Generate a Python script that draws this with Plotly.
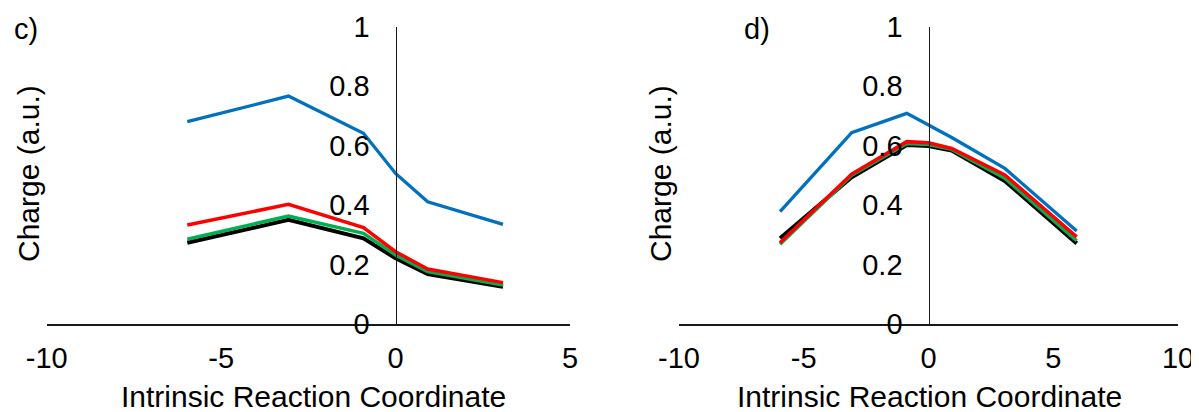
import plotly.graph_objects as go

# ---- data: panel c) ----
c_x = [-5.97, -3.07, -0.92, 0.0, 0.92, 3.08]
c_blue = [0.680, 0.766, 0.641, 0.506, 0.411, 0.335]
c_red = [0.333, 0.402, 0.324, 0.243, 0.185, 0.139]
c_green = [0.285, 0.363, 0.305, 0.232, 0.176, 0.131]
c_black = [0.273, 0.350, 0.288, 0.221, 0.168, 0.125]

# ---- data: panel d) ----
d_x = [-5.95, -3.08, -0.87, 0.0, 0.93, 3.06, 5.94]
d_blue = [0.378, 0.643, 0.708, 0.668, 0.627, 0.523, 0.313]
d_red = [0.273, 0.504, 0.613, 0.609, 0.590, 0.501, 0.293]
d_green = [0.268, 0.500, 0.607, 0.603, 0.587, 0.490, 0.280]
d_black = [0.288, 0.493, 0.602, 0.598, 0.583, 0.481, 0.271]

x_ticks_c = [-10, -5, 0, 5]
x_ticktext_c = ["-10", "-5", "0", "5"]
x_ticks_d = [-10, -5, 0, 5, 10]
x_ticktext_d = ["-10", "-5", "0", "5", "10"]
y_ticks = [0, 0.2, 0.4, 0.6, 0.8, 1]
y_ticktext = ["0", "0.2", "0.4", "0.6", "0.8", "1"]

panel_labels = ["c)", "d)"]
x_title = "Intrinsic Reaction Coordinate"
y_title = "Charge (a.u.)"

# page body has an 8px margin: draw in a slightly smaller figure, offset coordinates
OFF = 8
W, H = 1199 - OFF, 412 - OFF
FONT = "Liberation Sans, Arial, sans-serif"
FS = 29
FS_TITLE = 30

BLUE = "#0070C0"
RED = "#FF0000"
GREEN = "#00B050"
BLACK = "#000000"

fig = go.Figure()

def add_panel(xs, blue, red, green, black, xa, ya):
    for ys, col, w in [(black, BLACK, 4.0), (green, GREEN, 3.5), (red, RED, 3.5), (blue, BLUE, 3.3)]:
        fig.add_trace(go.Scatter(x=xs, y=ys, mode="lines", xaxis=xa, yaxis=ya,
                                 line=dict(color=col, width=w), showlegend=False,
                                 hoverinfo="skip"))

add_panel(c_x, c_blue, c_red, c_green, c_black, "x", "y")
add_panel(d_x, d_blue, d_red, d_green, d_black, "x2", "y2")

# pixel geometry (in reference-image pixels)
c_left, c_right = 46.7, 570.0
d_left, d_right = 679.0, 1178.0
y_top, y_bot = 26.5, 324.0

def fx(px):
    return (px - OFF) / W

def fy(py):
    return 1 - (py - OFF) / H

c_zero = c_left + (0 - (-10)) / 15 * (c_right - c_left)
d_zero = d_left + (0 - (-10)) / 20 * (d_right - d_left)

xcommon = dict(showgrid=False, zeroline=False, showline=True, linecolor="#1a1a1a",
               linewidth=1.5, ticks="", ticklabelstandoff=7, automargin=False,
               tickfont=dict(family=FONT, size=FS, color="#000"))
ycommon = dict(showgrid=False, zeroline=False, showline=True, linecolor="#1a1a1a",
               linewidth=1.3, ticks="", ticklabelstandoff=20, range=[0, 1],
               tickvals=y_ticks, ticktext=y_ticktext, anchor="free", automargin=False,
               domain=[fy(y_bot), fy(y_top)],
               tickfont=dict(family=FONT, size=FS, color="#000"))

fig.update_layout(
    width=W, height=H,
    margin=dict(l=0, r=0, t=0, b=0, autoexpand=False),
    paper_bgcolor="white", plot_bgcolor="rgba(0,0,0,0)",
    font=dict(family=FONT, size=FS, color="#000"),
    xaxis=dict(domain=[fx(c_left), fx(c_right)], range=[-10, 5], tickvals=x_ticks_c,
               ticktext=x_ticktext_c, anchor="y", **xcommon),
    yaxis=dict(position=fx(c_zero), **ycommon),
    xaxis2=dict(domain=[fx(d_left), fx(d_right)], range=[-10, 10], tickvals=x_ticks_d,
                ticktext=x_ticktext_d, anchor="y2", **xcommon),
    yaxis2=dict(position=fx(d_zero), **ycommon),
)

ann = []
for lbl, lx in zip(panel_labels, [12, 742]):
    ann.append(dict(text=lbl, x=fx(lx), y=fy(29), xref="paper", yref="paper",
                    xanchor="left", yanchor="middle", showarrow=False,
                    font=dict(family=FONT, size=FS, color="#000")))
for cx in [(c_left + c_right) / 2 + 5, (d_left + d_right) / 2 + 1]:
    ann.append(dict(text=x_title, x=fx(cx), y=0, xref="paper", yref="paper",
                    xanchor="center", yanchor="bottom", yshift=-3, showarrow=False,
                    font=dict(family=FONT, size=FS_TITLE, color="#000")))
for tx in [29, 661]:
    ann.append(dict(text=y_title, x=fx(tx), y=fy(174), xref="paper", yref="paper",
                    xanchor="center", yanchor="middle", showarrow=False, textangle=-90,
                    font=dict(family=FONT, size=FS_TITLE, color="#000")))
fig.update_layout(annotations=ann)

fig.write_html("out.html")
